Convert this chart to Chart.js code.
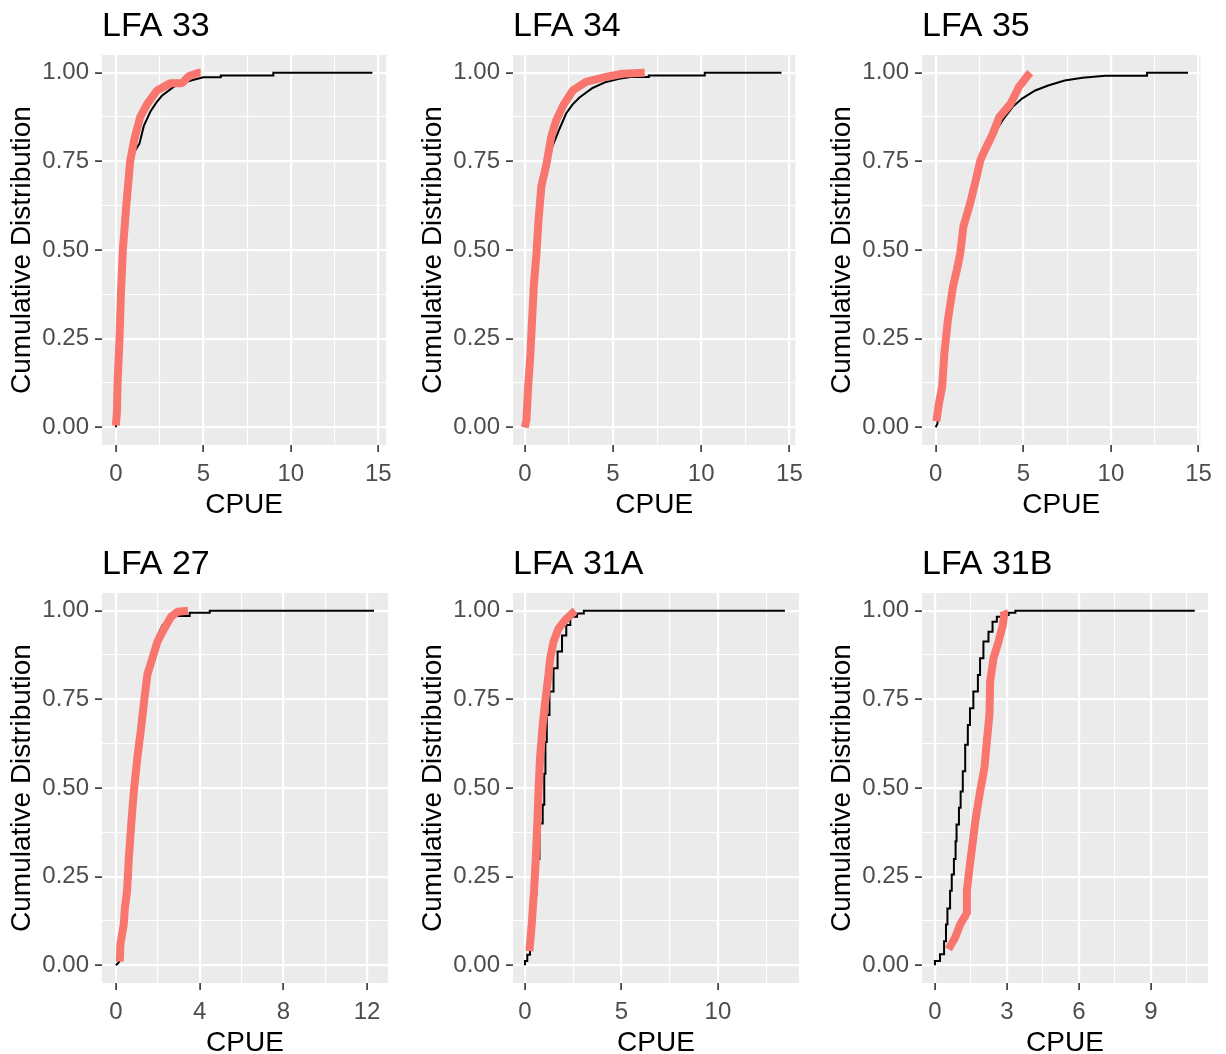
<!DOCTYPE html>
<html>
<head>
<meta charset="utf-8">
<script src="https://cdn.jsdelivr.net/npm/chart.js@4/dist/chart.umd.min.js"></script>
<style>
  body { margin: 0; background: #fff; }
  .panel { position: absolute; width: 400px; height: 530px; }
</style>
</head>
<body>
<div class="panel" style="left:0;top:0"><canvas id="c0" width="400" height="530"></canvas></div>
<div class="panel" style="left:411px;top:0"><canvas id="c1" width="400" height="530"></canvas></div>
<div class="panel" style="left:820px;top:0"><canvas id="c2" width="400" height="530"></canvas></div>
<div class="panel" style="left:0;top:538px"><canvas id="c3" width="400" height="530"></canvas></div>
<div class="panel" style="left:411px;top:538px"><canvas id="c4" width="400" height="530"></canvas></div>
<div class="panel" style="left:820px;top:538px"><canvas id="c5" width="400" height="530"></canvas></div>
<script>
// facet titles and axis ticks
const panelTitles = ["LFA 33", "LFA 34", "LFA 35", "LFA 27", "LFA 31A", "LFA 31B"];
const xMajor15 = [0, 5, 10, 15];
const xMajor27 = [0, 4, 8, 12];
const xMajor31A = [0, 5, 10];
const xMajor31B = [0, 3, 6, 9];
const yMajor = [0, 0.25, 0.5, 0.75, 1];

// black = all CPUE, red = subset
// repeated x values in the tails are the visible steps of the ecdf
const lfa33AllCpue = [0, 0.05, 0.1, 0.2, 0.3, 0.42, 0.6, 0.75, 0.88, 1.1, 1.35, 1.6, 1.97, 2.3, 2.63, 3.3, 3.9, 4.45, 5.0, 6.0, 6.0, 9.0, 9.0, 14.66];
const lfa33AllCdf  = [0, 0.03, 0.1, 0.24, 0.37, 0.5, 0.62, 0.7, 0.75, 0.78, 0.8, 0.85, 0.89, 0.915, 0.935, 0.96, 0.972, 0.98, 0.987, 0.987, 0.992, 0.992, 1.0, 1.0];
const lfa33SubCpue = [0.0, 0.06, 0.1, 0.21, 0.29, 0.4, 0.59, 0.73, 0.82, 1.05, 1.39, 1.77, 2.35, 3.1, 3.78, 4.16, 4.73, 4.85];
const lfa33SubCdf  = [0.005, 0.04, 0.125, 0.25, 0.375, 0.5, 0.62, 0.7, 0.75, 0.81, 0.875, 0.91, 0.95, 0.97, 0.97, 0.99, 1.0, 1.0];

const lfa34AllCpue = [0, 0.1, 0.19, 0.32, 0.41, 0.51, 0.66, 0.78, 0.95, 1.25, 1.55, 1.97, 2.34, 2.7, 3.1, 3.84, 4.6, 5.35, 6.0, 7.03, 7.03, 10.2, 10.2, 14.55];
const lfa34AllCdf  = [0, 0.01, 0.11, 0.21, 0.3, 0.4, 0.49, 0.58, 0.68, 0.73, 0.79, 0.842, 0.885, 0.91, 0.93, 0.957, 0.974, 0.983, 0.988, 0.988, 0.992, 0.992, 1.0, 1.0];
const lfa34SubCpue = [0.0, 0.09, 0.19, 0.32, 0.41, 0.51, 0.66, 0.77, 0.94, 1.22, 1.5, 1.78, 2.2, 2.72, 3.47, 4.6, 5.53, 6.8];
const lfa34SubCdf  = [0.0, 0.02, 0.115, 0.21, 0.3, 0.4, 0.49, 0.58, 0.68, 0.74, 0.82, 0.866, 0.91, 0.95, 0.974, 0.988, 0.997, 1.0];

const lfa35AllCpue = [0, 0.1, 0.19, 0.37, 0.5, 0.69, 0.99, 1.21, 1.4, 1.58, 1.96, 2.29, 2.55, 2.85, 3.3, 3.82, 4.38, 4.93, 5.68, 6.42, 7.36, 8.38, 9.67, 12.06, 12.06, 14.4];
const lfa35AllCdf  = [0, 0.01, 0.068, 0.115, 0.21, 0.3, 0.397, 0.444, 0.49, 0.566, 0.63, 0.697, 0.753, 0.78, 0.825, 0.866, 0.903, 0.927, 0.95, 0.964, 0.978, 0.986, 0.9915, 0.9915, 1.0, 1.0];
const lfa35SubCpue = [0.04, 0.19, 0.37, 0.5, 0.69, 0.99, 1.21, 1.4, 1.58, 1.96, 2.29, 2.55, 2.79, 3.26, 3.63, 4.28, 4.75, 5.3, 5.4];
const lfa35SubCdf  = [0.017, 0.068, 0.115, 0.21, 0.3, 0.397, 0.444, 0.49, 0.566, 0.63, 0.697, 0.753, 0.78, 0.828, 0.875, 0.913, 0.96, 0.995, 1.0];

const lfa27AllCpue = [0, 0.15, 0.21, 0.37, 0.53, 0.69, 0.85, 1.02, 1.18, 1.34, 1.61, 1.74, 1.98, 2.23, 2.44, 2.8, 3.52, 3.52, 4.48, 4.48, 12.33];
const lfa27AllCdf  = [0, 0.01, 0.06, 0.115, 0.21, 0.373, 0.49, 0.585, 0.66, 0.772, 0.847, 0.889, 0.93, 0.96, 0.97, 0.985, 0.985, 0.994, 0.994, 1.0, 1.0];
const lfa27SubCpue = [0.18, 0.21, 0.37, 0.42, 0.53, 0.61, 0.73, 0.85, 1.02, 1.18, 1.34, 1.5, 1.74, 1.98, 2.31, 2.63, 2.95, 3.44];
const lfa27SubCdf  = [0.01, 0.06, 0.115, 0.16, 0.21, 0.3, 0.4, 0.49, 0.585, 0.66, 0.744, 0.82, 0.866, 0.913, 0.95, 0.983, 0.997, 1.0];

const lfa31AAllCpue = [0, 0.12, 0.26, 0.44, 0.6, 0.75, 0.92, 1.0, 1.06, 1.13, 1.27, 1.48, 1.69, 1.92, 2.14, 2.35, 2.7, 3.05, 4.15, 13.47];
const lfa31AAllCdf  = [0, 0.012, 0.03, 0.115, 0.2, 0.3, 0.4, 0.453, 0.54, 0.63, 0.706, 0.772, 0.838, 0.885, 0.93, 0.96, 0.983, 0.992, 1.0, 1.0];
const lfa31ASubCpue = [0.23, 0.35, 0.47, 0.56, 0.64, 0.7, 0.78, 0.92, 1.05, 1.22, 1.31, 1.48, 1.74, 2.09, 2.53, 2.6];
const lfa31ASubCdf  = [0.04, 0.115, 0.21, 0.3, 0.4, 0.49, 0.584, 0.678, 0.744, 0.82, 0.866, 0.913, 0.95, 0.974, 0.997, 1.0];

const lfa31BAllCpue = [0, 0.21, 0.38, 0.46, 0.52, 0.63, 0.7, 0.79, 0.86, 0.9, 1.0, 1.07, 1.16, 1.26, 1.37, 1.46, 1.6, 1.79, 1.88, 2.02, 2.23, 2.4, 2.58, 2.79, 3.07, 3.35, 4.3, 10.83];
const lfa31BAllCdf  = [0, 0.012, 0.031, 0.068, 0.115, 0.16, 0.21, 0.256, 0.3, 0.35, 0.397, 0.444, 0.49, 0.547, 0.622, 0.678, 0.725, 0.772, 0.819, 0.866, 0.913, 0.941, 0.969, 0.983, 0.988, 0.994, 1.0, 1.0];
const lfa31BSubCpue = [0.56, 0.84, 1.05, 1.3, 1.33, 1.44, 1.58, 1.68, 1.88, 2.06, 2.16, 2.27, 2.3, 2.44, 2.65, 2.83, 2.89, 2.85];
const lfa31BSubCdf  = [0.045, 0.078, 0.115, 0.144, 0.21, 0.275, 0.35, 0.406, 0.49, 0.556, 0.63, 0.706, 0.8, 0.866, 0.913, 0.96, 0.993, 1.0];

const panels = [
  { all: [lfa33AllCpue, lfa33AllCdf], sub: [lfa33SubCpue, lfa33SubCdf], xMajor: xMajor15, xMin: -0.79, xMax: 15.45, stepped: false },
  { all: [lfa34AllCpue, lfa34AllCdf], sub: [lfa34SubCpue, lfa34SubCdf], xMajor: xMajor15, xMin: -0.67, xMax: 15.34, stepped: false },
  { all: [lfa35AllCpue, lfa35AllCdf], sub: [lfa35SubCpue, lfa35SubCdf], xMajor: xMajor15, xMin: -0.78, xMax: 15.11, stepped: false },
  { all: [lfa27AllCpue, lfa27AllCdf], sub: [lfa27SubCpue, lfa27SubCdf], xMajor: xMajor27, xMin: -0.67, xMax: 13.0, stepped: false },
  { all: [lfa31AAllCpue, lfa31AAllCdf], sub: [lfa31ASubCpue, lfa31ASubCdf], xMajor: xMajor31A, xMin: -0.62, xMax: 14.2, stepped: "after" },
  { all: [lfa31BAllCpue, lfa31BAllCdf], sub: [lfa31BSubCpue, lfa31BSubCdf], xMajor: xMajor31B, xMin: -0.54, xMax: 11.38, stepped: "after" }
];

const FONT = '"Liberation Sans", Arial, sans-serif';

function withMinor(major, lo, hi) {
  const step = major[1] - major[0];
  const out = [];
  for (let v = major[0] - step / 2; v <= hi; v += step / 2) {
    if (v >= lo) out.push(+v.toFixed(4));
  }
  return out;
}

const panelBg = {
  id: "panelBg",
  beforeDraw(chart) {
    const { ctx, chartArea: a } = chart;
    ctx.save();
    ctx.fillStyle = "#EBEBEB";
    ctx.fillRect(a.left, a.top, a.right - a.left, a.bottom - a.top);
    ctx.restore();
  }
};

const panelTitle = {
  id: "panelTitle",
  afterDraw(chart, args, opts) {
    const { ctx, chartArea } = chart;
    ctx.save();
    ctx.font = "34px " + FONT;
    ctx.fillStyle = "#000";
    ctx.textBaseline = "alphabetic";
    ctx.fillText(opts.text, chartArea.left, 36);
    ctx.restore();
  }
};

function gridOpts(major) {
  const isMajor = v => major.some(m => Math.abs(m - v) < 1e-6);
  return {
    color: "#FFFFFF",
    lineWidth: c => (isMajor(c.tick.value) ? 2.2 : 1.1),
    tickColor: c => (isMajor(c.tick.value) ? "#333333" : "rgba(0,0,0,0)"),
    tickLength: 7,
    tickWidth: 1.6
  };
}

panels.forEach((p, i) => {
  const xTicks = withMinor(p.xMajor, p.xMin, p.xMax);
  const yTicks = withMinor(yMajor, -0.05, 1.05);
  new Chart(document.getElementById("c" + i), {
    type: "line",
    data: {
      datasets: [
        {
          data: p.sub[0].map((x, k) => ({ x, y: p.sub[1][k] })),
          borderColor: "#F8766D",
          borderWidth: 8,
          borderJoinStyle: "bevel",
          pointRadius: 0,
          order: 0
        },
        {
          data: p.all[0].map((x, k) => ({ x, y: p.all[1][k] })),
          borderColor: "#000000",
          borderWidth: 2,
          stepped: p.stepped,
          pointRadius: 0,
          order: 1
        }
      ]
    },
    options: {
      responsive: false,
      animation: false,
      events: [],
      layout: { padding: { top: 55, right: 12, left: 0, bottom: 0 } },
      plugins: {
        legend: { display: false },
        tooltip: { enabled: false },
        panelTitle: { text: panelTitles[i] }
      },
      scales: {
        x: {
          type: "linear",
          min: p.xMin,
          max: p.xMax,
          afterBuildTicks: s => { s.ticks = xTicks.map(v => ({ value: v })); },
          afterFit: s => { s.height = 85; },
          grid: gridOpts(p.xMajor),
          border: { display: false },
          ticks: {
            autoSkip: false,
            maxRotation: 0,
            padding: 8,
            color: "#4D4D4D",
            font: { family: FONT, size: 24 },
            callback: v => (p.xMajor.includes(v) ? String(v) : "")
          },
          title: {
            display: true,
            text: "CPUE",
            color: "#000",
            font: { family: FONT, size: 28 },
            padding: { top: 0, bottom: 8 }
          }
        },
        y: {
          min: -0.05,
          max: 1.05,
          afterBuildTicks: s => { s.ticks = yTicks.map(v => ({ value: v })); },
          afterFit: s => { s.width = 102; },
          grid: gridOpts(yMajor),
          border: { display: false },
          ticks: {
            autoSkip: false,
            padding: 6,
            color: "#4D4D4D",
            font: { family: FONT, size: 24 },
            callback: v => (yMajor.includes(v) ? v.toFixed(2) : "")
          },
          title: {
            display: true,
            text: "Cumulative Distribution",
            color: "#000",
            font: { family: FONT, size: 28 },
            padding: { top: 5, bottom: 0 }
          }
        }
      }
    },
    plugins: [panelBg, panelTitle]
  });
});
</script>
</body>
</html>
